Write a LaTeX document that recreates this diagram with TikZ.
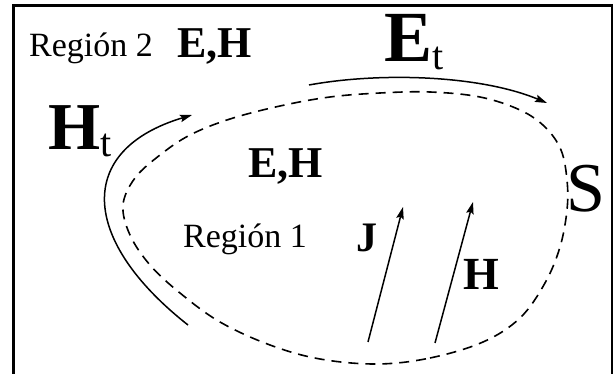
\documentclass[tikz,border=0pt]{standalone}
\usepackage{fontspec}
\setmainfont{Liberation Serif}
\usetikzlibrary{arrows.meta}
\begin{document}
\begin{tikzpicture}[x=1pt,y=-1pt,every node/.style={inner sep=0pt,anchor=base west},
  vec/.style={line width=1.5pt,-{Stealth[length=12pt,width=7.5pt,inset=2pt]}},
  surf/.style={line width=1.6pt,dash pattern=on 10pt off 7pt}]
\useasboundingbox (0,0) rectangle (614,374);
\draw[line width=3pt] (13.5,374) -- (13.5,5.5) -- (612,5.5);
\draw[line width=1.5pt] (612,4) -- (612,374);
\node (r2) at (29,57) {\fontsize{34}{40}\selectfont Región 2};
\node (eh2) at (177,58) {\fontsize{44}{48}\selectfont\bfseries E,H};
\node (ht) at (48,150) {\fontsize{67}{70}\selectfont\bfseries H\raisebox{-7pt}{\mdseries\fontsize{40}{42}\selectfont t}};
\node (et) at (384,62) {\fontsize{72}{74}\selectfont\bfseries E\raisebox{-8pt}{\mdseries\fontsize{40}{42}\selectfont t}};
\node (eh1) at (248,178) {\fontsize{44}{48}\selectfont\bfseries E,H};
\node (s) at (566,212) {\fontsize{70}{72}\selectfont S};
\node (r1) at (183,248) {\fontsize{34}{40}\selectfont Región 1};
\node (j) at (356,252) {\fontsize{42}{46}\selectfont\bfseries J};
\node (h) at (463,290) {\fontsize{46}{50}\selectfont\bfseries H};
% superficie S
\draw[surf] plot[smooth cycle,tension=0.6] coordinates {(377,364) (430,358) (483,342) (520,318) (545,283) (560,247) (567,210) (567,180) (561,150) (545,127) (520,110) (480,97) (430,92) (380,93) (330,97) (280,106) (230,119) (190,135) (160,155) (135,178) (123,205) (130,235) (150,265) (180,293) (220,322) (270,345) (320,359)};
% componentes tangenciales
\coordinate (htfoot) at (188,325); \coordinate (httip) at (192,115);
\coordinate (etfoot) at (309,85); \coordinate (ettip) at (547,103);
\draw[vec] (htfoot) .. controls (80,240) and (75,150) .. (httip);
\draw[vec] (etfoot) .. controls (380,72) and (480,75) .. (ettip);
% J y H
\coordinate (jfoot) at (368,342); \coordinate (jtip) at (403,207);
\coordinate (hfoot) at (435,343); \coordinate (htip) at (473,202);
\draw[vec] (jfoot) -- (jtip);
\draw[vec] (hfoot) -- (htip);
\end{tikzpicture}
\end{document}
